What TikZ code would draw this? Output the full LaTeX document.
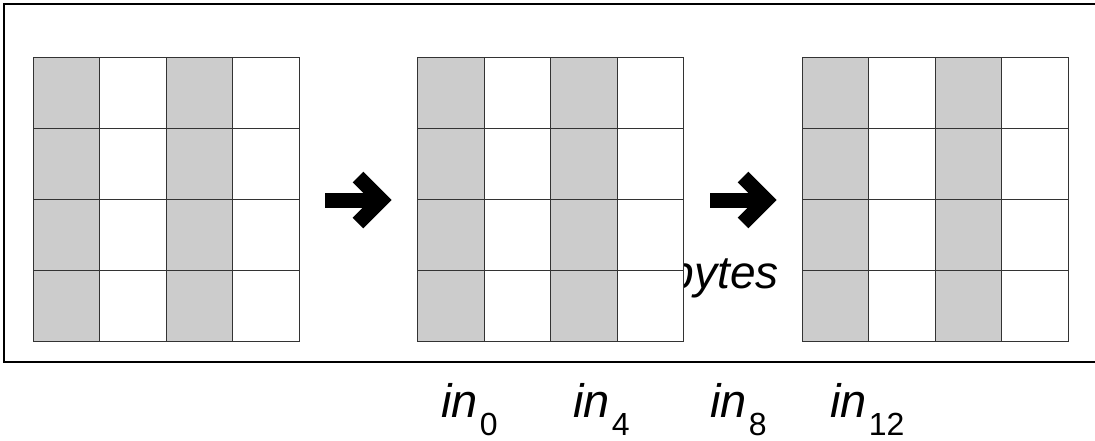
\documentclass[tikz,border=0pt]{standalone}
\usepackage{fontspec}
\setmainfont{Liberation Sans}
\usetikzlibrary{positioning}

\newcommand\idx[1]{\kern2pt\raisebox{-18pt}{\fontsize{32}{38}\selectfont\upshape #1}}

\begin{document}
\begin{tikzpicture}[
    x=1pt, y=-1pt,
    frame/.style={line width=2pt},
    cell/.style={draw=black!80, line width=1pt},
    shaded/.style={cell, fill=black!20},
    plain/.style={cell, fill=white},
    fatarrow/.style={line width=15pt, miter limit=10},
    lbl/.style={font=\fontsize{47}{56}\selectfont\itshape, inner sep=0pt, anchor=base west}
]

\useasboundingbox (0,0) rectangle (1095,440);

\draw[frame] (1095,4) -- (4,4) -- (4,362) -- (1095,362);

% label that sits behind the middle block
\node[lbl, anchor=base east, font=\fontsize{46}{54}\selectfont\itshape] (bytes) at (779,288) {bytes};

% three 4x4 blocks, columns 0 and 2 shaded
\foreach \bx in {33.3, 417.7, 802.3}
  \foreach \c/\sty in {0/shaded, 1/plain, 2/shaded, 3/plain}
    \foreach \r in {0,...,3}
      \draw[\sty] (\bx+\c*66.5, 57.3+\r*71.1) rectangle ++(66.5,71.1);

% block arrows between them
\foreach \ax/\name in {325/arrA, 710/arrB} {
  \coordinate (\name) at (\ax,200);
  \draw[fatarrow] (\name) -- ++(56,0);
  \draw[fatarrow] ([shift={(33,-23)}]\name) -- ++(23,23) -- ++(-23,23);
}

\node[lbl] (in0) at (441,417) {in\idx{0}};
\node[lbl] (in4) at (573,417) {in\idx{4}};
\node[lbl] (in8) at (710,417) {in\idx{8}};
\node[lbl] (in12) at (830,417) {in\idx{12}};

\end{tikzpicture}
\end{document}
